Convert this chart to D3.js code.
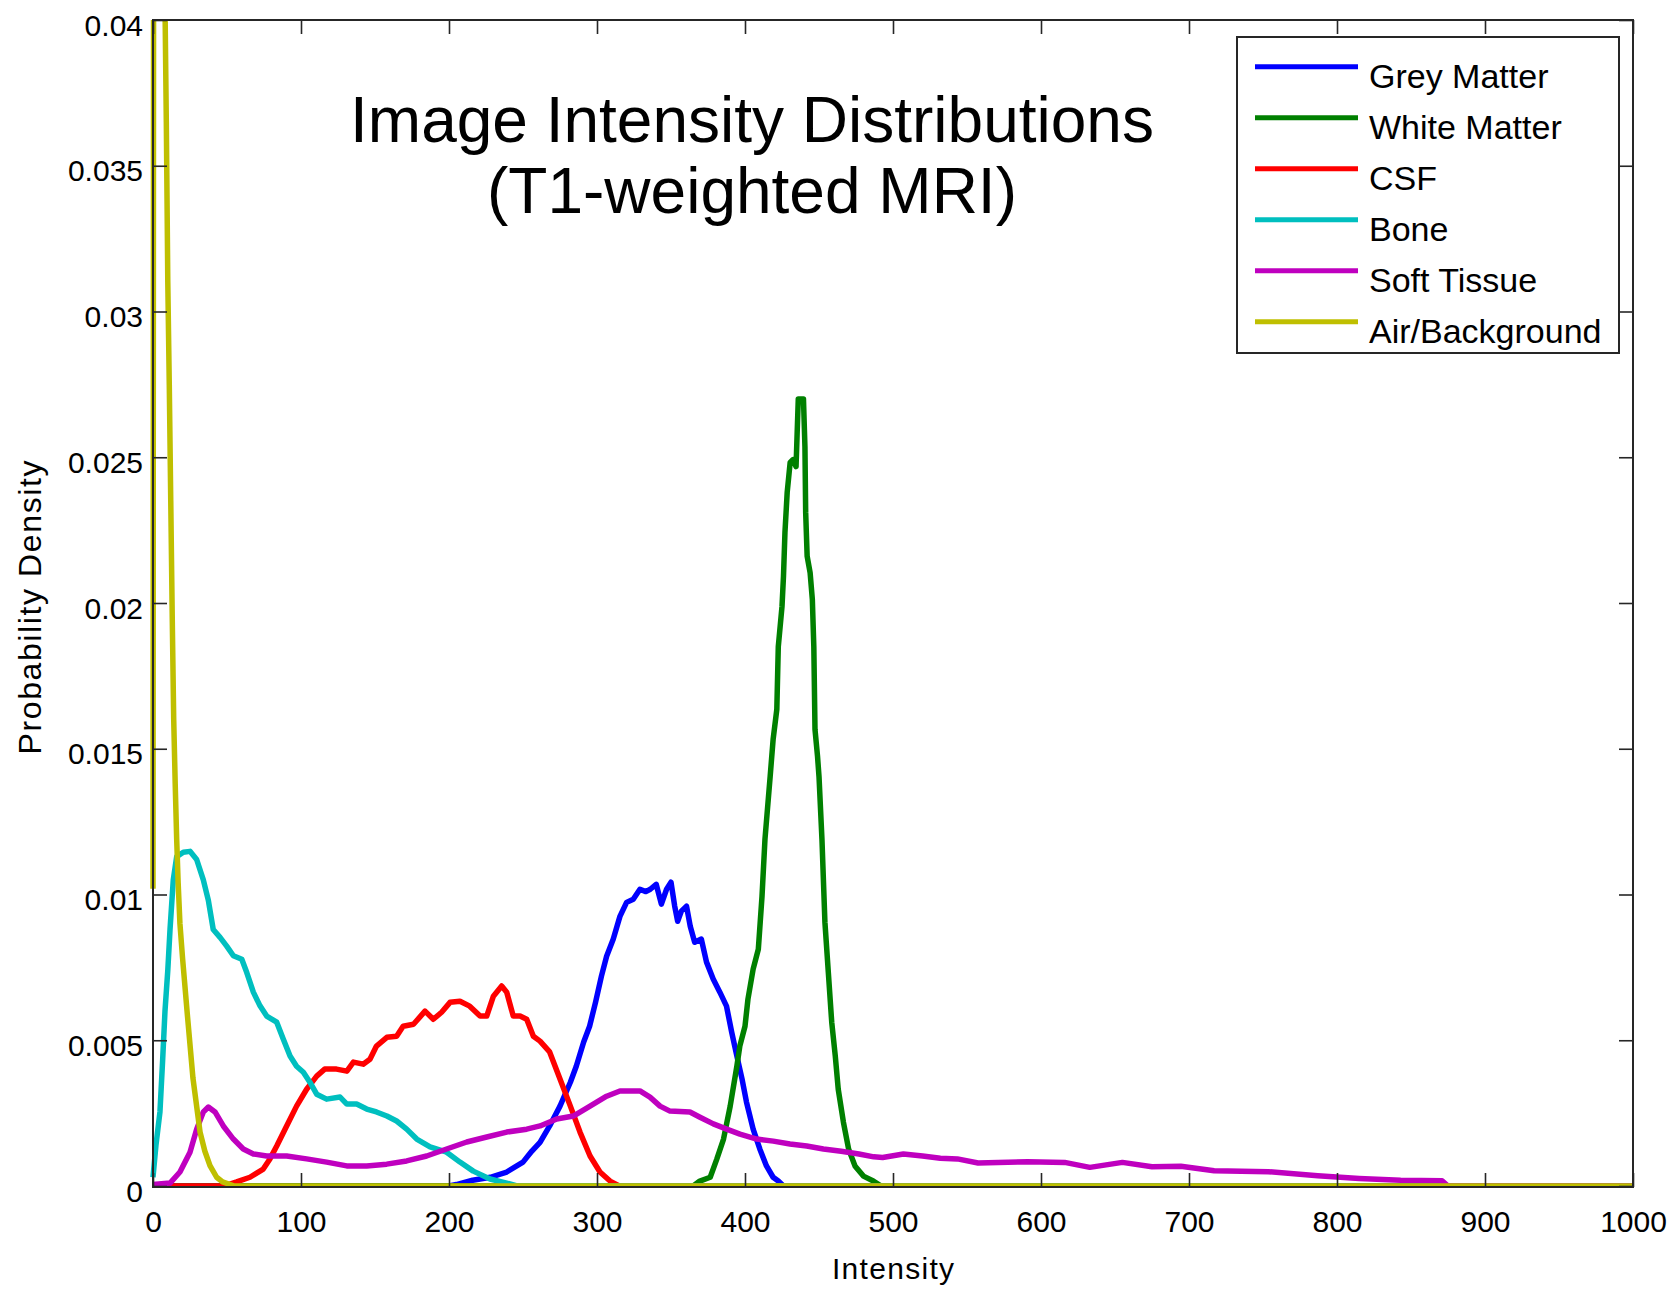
<!DOCTYPE html>
<html>
<head>
<meta charset="utf-8">
<script src="https://cdn.jsdelivr.net/npm/d3@7"></script>
<style>
  html, body { margin: 0; padding: 0; background: #fff; }
  svg { display: block; }
  text { font-family: "Liberation Sans", Arial, Helvetica, sans-serif; fill: #000; }
</style>
</head>
<body>
<svg id="chart" width="1674" height="1290"></svg>
<script>
// ---------------- DATA ----------------
const titleLines = ["Image Intensity Distributions", "(T1-weighted MRI)"];
const xLabel = "Intensity";
const yLabel = "Probability Density";
const xTicks = [0, 100, 200, 300, 400, 500, 600, 700, 800, 900, 1000];
const yTicks = [0, 0.005, 0.01, 0.015, 0.02, 0.025, 0.03, 0.035, 0.04];
const yTickLabels = ["0", "0.005", "0.01", "0.015", "0.02", "0.025", "0.03", "0.035", "0.04"];
const seriesNames = ["Grey Matter", "White Matter", "CSF", "Bone", "Soft Tissue", "Air/Background"];
const seriesColors = ["#0000ff", "#008000", "#ff0000", "#00bfbf", "#bf00bf", "#bfbf00"];

const greyMatter = [[0,0],[200,0],[205,0.00005],[216,0.0002],[228,0.0003],[239,0.00048],[250,0.00082],[256,0.0012],[261.5,0.0015],[268,0.00206],[275,0.00274],[282,0.00356],[286,0.00411],[291,0.00494],[295,0.00548],[299,0.0063],[303,0.0072],[306.5,0.00788],[311,0.00847],[315.5,0.00925],[320,0.00973],[324.5,0.00984],[329,0.01018],[333,0.0101],[336,0.01018],[340,0.01035],[343.5,0.00967],[347,0.01018],[350,0.01042],[352.5,0.0096],[354.5,0.00908],[357,0.00943],[360.5,0.0096],[363,0.00891],[366,0.00836],[370.5,0.00847],[374,0.00768],[378.5,0.0071],[383,0.00665],[387.5,0.00617],[391,0.00528],[394.5,0.00446],[398,0.00367],[401,0.00288],[405.5,0.00195],[410,0.00127],[414.5,0.00069],[419,0.0003],[422.5,0.00017],[426,0],[1000,0]];

const whiteMatter = [[0,0],[365,0],[369.5,0.00017],[376.5,0.0003],[381,0.00093],[385.5,0.00161],[390,0.00274],[394.5,0.00411],[396.5,0.0048],[400,0.00548],[402,0.00641],[405.5,0.00744],[409,0.00812],[411.5,0.00994],[413.5,0.0119],[417,0.01405],[419,0.01532],[421.5,0.01635],[422.5,0.01851],[425,0.01988],[426,0.02091],[427,0.02242],[428.5,0.02379],[430.5,0.02482],[432.5,0.02492],[434.5,0.02468],[436,0.027],[439.5,0.027],[440.5,0.02536],[441,0.0231],[442,0.0216],[444,0.02104],[445.5,0.02012],[446.5,0.01851],[447.3,0.01566],[449,0.01474],[450,0.01405],[452,0.01189],[454,0.00905],[456.3,0.00733],[458.6,0.00562],[461,0.00446],[463,0.00332],[466.5,0.00219],[470,0.00127],[474.3,0.00069],[480,0.00034],[486.7,0.00017],[492,0],[1000,0]];

const csf = [[0,0],[48,0],[56.5,0.00014],[65.5,0.0003],[74.5,0.00058],[79,0.00093],[83.6,0.00137],[90.3,0.00206],[97,0.00274],[103.8,0.00332],[110.6,0.00377],[116,0.00401],[124,0.00401],[131,0.00394],[135.4,0.00425],[142,0.00418],[146.6,0.00435],[151,0.0048],[158,0.0051],[164.6,0.00514],[169,0.00548],[176,0.00555],[180.4,0.0058],[183.8,0.006],[189.4,0.00572],[195,0.00596],[200.7,0.0063],[207.4,0.00634],[214,0.00617],[221,0.00583],[225.5,0.00583],[230,0.00651],[235.6,0.00686],[239,0.00665],[243.4,0.00583],[248,0.00583],[252.5,0.00572],[257,0.00514],[261.5,0.00497],[268,0.0046],[275,0.00367],[282,0.00274],[288.5,0.00185],[295.3,0.00103],[302,0.00048],[308.8,0.00017],[315,0],[1000,0]];

const bone = [[0,0.0003],[2,0.0014],[4.7,0.00254],[6.5,0.0043],[8.1,0.006],[10,0.0074],[11.5,0.0088],[13.7,0.0105],[16,0.0113],[20.5,0.01145],[25,0.01148],[29.5,0.0112],[34,0.0105],[37.4,0.0098],[40.7,0.0088],[45.3,0.00853],[49.8,0.00823],[54.3,0.0079],[60,0.00778],[63.3,0.00733],[67.8,0.00665],[72.3,0.00618],[76.8,0.00583],[83.6,0.00562],[88,0.00504],[92.6,0.00446],[97,0.00411],[101.6,0.0039],[106,0.00356],[110.6,0.00315],[117.3,0.00298],[126.4,0.00305],[131,0.00281],[137.6,0.00281],[144.4,0.00264],[151,0.00254],[158,0.0024],[164.6,0.00223],[171.4,0.00195],[178.2,0.00161],[187.2,0.00134],[198.4,0.00116],[207.4,0.00082],[216.4,0.00051],[227.7,0.00024],[239,0.0001],[246,0],[1000,0]];

const softTissue = [[0,0.00005],[11.5,0.0001],[18.2,0.00048],[25,0.00116],[29.5,0.00195],[34,0.00254],[37.4,0.00271],[41.9,0.00254],[47.5,0.00206],[54.3,0.00161],[61,0.00127],[67.8,0.0011],[76.8,0.00103],[90.3,0.00103],[103.8,0.00093],[117.3,0.00082],[130.9,0.00069],[144.4,0.00069],[157.9,0.00075],[171.4,0.00086],[184.9,0.00103],[198.4,0.00127],[212,0.00151],[225.5,0.00168],[239,0.00185],[252.5,0.00195],[261.5,0.00206],[272.8,0.0023],[284,0.0024],[295.3,0.00274],[306.5,0.00308],[315.5,0.00326],[329,0.00326],[335.8,0.00305],[342.6,0.00274],[349.3,0.00257],[362.8,0.00254],[369.6,0.00236],[378.6,0.00213],[387.6,0.00195],[396.6,0.00178],[407.9,0.00161],[419.1,0.00154],[430.4,0.00144],[441.7,0.00137],[453,0.00127],[465,0.00119],[477,0.0011],[487,0.001],[493,0.00098],[507,0.0011],[520,0.00103],[532,0.00095],[543.5,0.00093],[557.5,0.00079],[591,0.00083],[616,0.00081],[633,0.00064],[655,0.00081],[675,0.00066],[694.5,0.00068],[717,0.00052],[753.6,0.00049],[787,0.00035],[815,0.00026],[843,0.0002],[871,0.00018],[875,0],[1000,0]];

const airBackground = [[0,0.0102],[1,0.09],[4,0.07],[7,0.048],[8,0.041],[9,0.0365],[10,0.031],[11,0.0275],[12,0.0235],[13,0.0195],[14,0.016],[15,0.0138],[16,0.0119],[17,0.0104],[18.2,0.009],[20,0.0078],[23,0.006],[27,0.0037],[31.8,0.00185],[35,0.0012],[38.5,0.0007],[43,0.0003],[47,0.00014],[55,0],[1000,0]];

const seriesData = [greyMatter, whiteMatter, csf, bone, softTissue, airBackground];

// ---------------- LAYOUT ----------------
const plot = { left: 153, top: 20, right: 1633, bottom: 1187 };
const svg = d3.select("#chart");
svg.append("rect").attr("width", 1674).attr("height", 1290).attr("fill", "#fff");

const x = d3.scaleLinear().domain([0, 1000]).range([plot.left, plot.right]);
const y = d3.scaleLinear().domain([0, 0.04]).range([plot.bottom - 1, plot.top]);

svg.append("defs").append("clipPath").attr("id", "clip")
  .append("rect")
  .attr("x", plot.left - 4).attr("y", plot.top)
  .attr("width", plot.right - plot.left + 4).attr("height", plot.bottom - plot.top + 1);

// lines
const line = d3.line().x(d => x(d[0])).y(d => y(d[1]));
const gLines = svg.append("g").attr("clip-path", "url(#clip)");
seriesData.forEach((data, i) => {
  gLines.append("path")
    .datum(data)
    .attr("d", line)
    .attr("fill", "none")
    .attr("stroke", seriesColors[i])
    .attr("stroke-width", 5.5)
    .attr("stroke-linejoin", "round");
});

// axes box and ticks
const axisColor = "#262626";
const tickLen = 14;

const xAxisBottom = d3.axisBottom(x).tickValues(xTicks).tickSize(-tickLen).tickPadding(24).tickFormat(d3.format("d"));
const xAxisTop = d3.axisTop(x).tickValues(xTicks).tickSize(-tickLen).tickFormat("");
const yAxisLeft = d3.axisLeft(y).tickValues(yTicks).tickSize(-tickLen).tickPadding(10).tickFormat((d, i) => yTickLabels[i]);
const yAxisRight = d3.axisRight(y).tickValues(yTicks).tickSize(-tickLen).tickFormat("");

function styleAxis(g) {
  g.select(".domain").remove();
  g.selectAll(".tick line").attr("stroke", axisColor).attr("stroke-width", 1.6);
  g.selectAll(".tick text").attr("font-size", 30).attr("fill", "#000")
    .attr("font-family", "'Liberation Sans', Arial, sans-serif");
}

svg.append("g").attr("transform", `translate(0,${plot.bottom})`).call(xAxisBottom).call(styleAxis)
  .selectAll(".tick text").attr("dy", "0.71em");
svg.append("g").attr("transform", `translate(0,${plot.top})`).call(xAxisTop).call(styleAxis);
svg.append("g").attr("transform", `translate(${plot.left},0)`).call(yAxisLeft).call(styleAxis)
  .selectAll(".tick text").attr("dy", "0.5em");
svg.append("g").attr("transform", `translate(${plot.right},0)`).call(yAxisRight).call(styleAxis);

svg.append("rect")
  .attr("x", plot.left).attr("y", plot.top)
  .attr("width", plot.right - plot.left).attr("height", plot.bottom - plot.top)
  .attr("fill", "none").attr("stroke", axisColor).attr("stroke-width", 2);

// axis labels
svg.append("text")
  .attr("x", (plot.left + plot.right) / 2).attr("y", 1279)
  .attr("text-anchor", "middle").attr("font-size", 30)
  .attr("textLength", 122).attr("lengthAdjust", "spacing")
  .text(xLabel);

svg.append("text")
  .attr("transform", `translate(41,${(plot.top + plot.bottom) / 2 + 4}) rotate(-90)`)
  .attr("text-anchor", "middle").attr("font-size", 32)
  .attr("textLength", 294).attr("lengthAdjust", "spacing")
  .text(yLabel);

// title
svg.append("text")
  .attr("x", 752).attr("y", 142)
  .attr("text-anchor", "middle").attr("font-size", 64)
  .text(titleLines[0]);
svg.append("text")
  .attr("x", 752).attr("y", 213)
  .attr("text-anchor", "middle").attr("font-size", 64)
  .text(titleLines[1]);

// legend
const legend = svg.append("g");
legend.append("rect")
  .attr("x", 1237).attr("y", 37).attr("width", 382).attr("height", 316)
  .attr("fill", "#fff").attr("stroke", axisColor).attr("stroke-width", 2);
seriesNames.forEach((name, i) => {
  const ly = 66.7 + 51 * i;
  legend.append("line")
    .attr("x1", 1255).attr("x2", 1358).attr("y1", ly).attr("y2", ly)
    .attr("stroke", seriesColors[i]).attr("stroke-width", 5);
  legend.append("text")
    .attr("x", 1369).attr("y", ly + 21.5)
    .attr("font-size", 34)
    .text(name);
});
</script>
</body>
</html>
